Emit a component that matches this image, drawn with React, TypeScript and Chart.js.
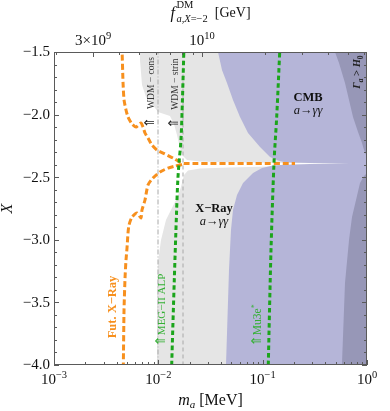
import React, { useEffect, useRef } from "react";
import { Chart, registerables } from "chart.js";

Chart.register(...registerables);

const SERIF = '"Liberation Serif", "Times New Roman", "DejaVu Serif", serif';
const ARROWFONT = '"DejaVu Sans", "DejaVu Serif", sans-serif';
const FRAME = "#5a5a5a";
const GREY_FILL = "#e5e5e5";
const CMB_FILL = "#b5b5d8";
const DARK_FILL = "#9797b7";
const ORANGE = "#f7901e";
const GREEN = "#1ba51b";
const GREEN_TEXT = "#33b033";
const DASH_GREY = "#a8a8a8";

// ---- axes ----
const mRange = [1e-3, 1];
const xRange = [-4.0, -1.5];
const fRange = [1.95e9, 6.17e10]; // f^DM_{a,X=-2} on top axis
const xTickStep = 0.1;
const mDecadeStarts = [1e-3, 1e-2, 1e-1];
const mMultipliers = [1, 2, 3, 4, 5, 6, 7, 8, 9];
const mMajorTicks = [1e-3, 1e-2, 1e-1, 1];
const mTickExponents = ["−3", "−2", "−1", "0"];
const xMajorTicks = [-4.0, -3.5, -3.0, -2.5, -2.0, -1.5];
const xTickLabels = ["−4.0", "−3.5", "−3.0", "−2.5", "−2.0", "−1.5"];
const fTicks = [2e9, 3e9, 4e9, 5e9, 6e9, 7e9, 8e9, 9e9, 1e10, 2e10, 3e10, 4e10, 5e10, 6e10];
const fLabelTicks = [3e9, 1e10];
const fLabelMantissa = ["3×10", "10"];
const fLabelExponents = ["9", "10"];

// ---- regions: [m_a (MeV), X] ----
type P = [number, number];
const xrayUpper: P[] = [
  [0.00667, -1.4], [0.00667, -1.564], [0.00698, -1.764], [0.00762, -1.859], [0.0087, -1.915],
  [0.00993, -1.979], [0.01133, -1.995], [0.01293, -2.011], [0.01413, -2.075], [0.0151, -2.163],
  [0.01613, -2.267], [0.01724, -2.331], [0.01883, -2.363], [0.02508, -2.375], [0.04863, -2.381],
  [0.1176, -2.385], [0.3544, -2.388], [1.333, -2.391], [1.333, -1.4],
];
const xrayLower: P[] = [
  [1.333, -2.403], [0.3544, -2.41], [0.1176, -2.415], [0.04863, -2.423], [0.02508, -2.431],
  [0.01925, -2.447], [0.01762, -2.482], [0.01649, -2.578], [0.0151, -2.666], [0.01352, -2.746],
  [0.01184, -2.842], [0.01061, -3.002], [0.00993, -3.177], [0.00971, -3.401], [0.00971, -4.12],
  [1.333, -4.12],
];
const cmbRegion: P[] = [
  [0.0357, -1.4], [1.333, -1.4], [1.333, -4.12], [0.04355, -4.12], [0.04452, -4.0],
  [0.04756, -3.241], [0.0497, -2.922], [0.05195, -2.762], [0.05675, -2.642], [0.06481, -2.546],
  [0.08081, -2.466], [0.09856, -2.427], [0.1256, -2.407], [0.1637, -2.401], [0.2843, -2.395],
  [0.6874, -2.391], [0.2843, -2.386], [0.1637, -2.38], [0.1403, -2.367], [0.1176, -2.339],
  [0.0943, -2.259], [0.07238, -2.147], [0.06064, -2.019], [0.05195, -1.883], [0.04551, -1.748],
  [0.04075, -1.644], [0.03732, -1.5], [0.0357, -1.4],
];
const decayRegion: P[] = [
  [0.4722, -1.4], [1.333, -1.4], [1.333, -4.12], [0.5635, -4.12], [0.5761, -3.984],
  [0.6153, -3.345], [0.6725, -3.002], [0.7183, -2.818], [0.7848, -2.682], [0.857, -2.546],
  [0.9363, -2.49], [1.0, -2.466], [1.19, -2.403], [1.0, -2.339], [0.9363, -2.283],
  [0.8957, -2.227], [0.8203, -2.139], [0.7343, -2.019], [0.6725, -1.883], [0.6153, -1.748],
  [0.5391, -1.588], [0.4934, -1.5], [0.4722, -1.4],
];

// ---- lines ----
const futXrayUpper: P[] = [
  [0.00448, -1.45], [0.00459, -1.748], [0.00469, -1.883], [0.0049, -1.963], [0.00512, -2.019],
  [0.00559, -2.075], [0.00611, -2.099], [0.00682, -2.067], [0.00713, -2.099], [0.00745, -2.147],
  [0.00796, -2.187], [0.00869, -2.243], [0.0097, -2.283], [0.01109, -2.307], [0.01383, -2.347],
  [0.01615, -2.379], [0.0176, -2.39], [0.2042, -2.39],
];
const futXrayLower: P[] = [
  [0.01687, -2.399], [0.01445, -2.411], [0.01239, -2.427], [0.01038, -2.458], [0.00889, -2.506],
  [0.00796, -2.562], [0.00745, -2.682], [0.00697, -2.762], [0.00682, -2.826], [0.00625, -2.786],
  [0.00559, -2.818], [0.00523, -2.882], [0.00512, -2.946], [0.00501, -3.065], [0.0049, -3.161],
  [0.0048, -3.297], [0.00469, -3.561], [0.00462, -4.0], [0.00461, -4.05],
];
const megLine: P[] = [
  [0.01762, -1.45], [0.01702, -1.883], [0.01648, -2.203], [0.01577, -2.387], [0.01534, -2.538],
  [0.01494, -2.786], [0.01422, -3.321], [0.01343, -4.0], [0.0134, -4.05],
];
const mu3eLine: P[] = [
  [0.1466, -1.45], [0.1363, -2.019], [0.1284, -2.387], [0.1202, -3.081], [0.1132, -4.0], [0.113, -4.05],
];
const wdmConsLine: P[] = [[0.00993, -1.4], [0.00993, -4.1]];
const wdmStrinLine: P[] = [[0.01724, -1.4], [0.01724, -4.1]];

// ---- annotations (positions in data coordinates) ----
type Part = { t: string; font: string; color?: string; dy?: number };
type Note = { m: number; X: number; rot: boolean; size: number; parts: Part[] };
const gg = (size: number): Part[] => [
  { t: "a", font: `italic ${size}px ${SERIF}`, color: "#111" },
  { t: "→", font: `${size}px ${SERIF}`, color: "#111" },
  { t: "γγ", font: `italic ${size}px ${SERIF}`, color: "#111" },
];
const notes: Note[] = [
  { m: 0.0085, X: -1.748, rot: true, size: 9.5, parts: [{ t: "WDM − cons", font: `9.5px ${SERIF}`, color: "#333" }] },
  { m: 0.00832, X: -2.063, rot: true, size: 12, parts: [{ t: "⇑", font: `13.5px ${ARROWFONT}`, color: "#222" }] },
  { m: 0.01445, X: -1.756, rot: true, size: 9.5, parts: [{ t: "WDM − strin", font: `9.5px ${SERIF}`, color: "#333" }] },
  { m: 0.01413, X: -2.067, rot: true, size: 12, parts: [{ t: "⇑", font: `13.5px ${ARROWFONT}`, color: "#222" }] },
  { m: 0.272, X: -1.859, rot: false, size: 12, parts: [{ t: "CMB", font: `bold 12.5px ${SERIF}`, color: "#111" }] },
  { m: 0.272, X: -1.963, rot: false, size: 12, parts: gg(12.5) },
  { m: 0.03416, X: -2.746, rot: false, size: 12, parts: [{ t: "X−Ray", font: `bold 12.5px ${SERIF}`, color: "#111" }] },
  { m: 0.03416, X: -2.85, rot: false, size: 12, parts: gg(12.5) },
  { m: 0.802, X: -1.66, rot: true, size: 10, parts: [
    { t: "Γ", font: `bold italic 10.5px ${SERIF}`, color: "#222" },
    { t: "a", font: `bold italic 7.5px ${SERIF}`, color: "#222", dy: 2.5 },
    { t: " > ", font: `bold 10.5px ${SERIF}`, color: "#222" },
    { t: "H", font: `bold italic 10.5px ${SERIF}`, color: "#222" },
    { t: "0", font: `bold 7.5px ${SERIF}`, color: "#222", dy: 2.5 },
  ] },
  { m: 0.0036, X: -3.537, rot: true, size: 12.5, parts: [{ t: "Fut. X−Ray", font: `bold 12.5px ${SERIF}`, color: ORANGE }] },
  { m: 0.0106, X: -3.561, rot: true, size: 11, parts: [{ t: "⇑", font: `13.5px ${ARROWFONT}`, color: GREEN_TEXT }, { t: "MEG−II ALP", font: `11px ${SERIF}`, color: GREEN_TEXT }] },
  { m: 0.0882, X: -3.684, rot: true, size: 11, parts: [{ t: "⇑", font: `13.5px ${ARROWFONT}`, color: GREEN_TEXT }, { t: "Mu3e", font: `11.5px ${SERIF}`, color: GREEN_TEXT }, { t: "*", font: `8px ${SERIF}`, color: GREEN_TEXT, dy: -4 }] },
];

const pts = (a: P[]) => a.map(([x, y]) => ({ x, y }));

function rich(ctx: CanvasRenderingContext2D, parts: Part[], x: number, y: number, align: string, rot: number, shift: number) {
  ctx.save();
  ctx.translate(x, y);
  if (rot) ctx.rotate(rot);
  const ws = parts.map((p) => {
    ctx.font = p.font;
    return ctx.measureText(p.t).width;
  });
  const total = ws.reduce((s, w) => s + w, 0);
  let cx = align === "center" ? -total / 2 : align === "right" ? -total : 0;
  ctx.textAlign = "left";
  ctx.textBaseline = "alphabetic";
  parts.forEach((p, i) => {
    ctx.font = p.font;
    ctx.fillStyle = p.color || "#000";
    ctx.fillText(p.t, cx, shift + (p.dy || 0));
    cx += ws[i];
  });
  ctx.restore();
}

const overlay = {
  id: "overlay",
  afterDraw(chart: any) {
    const { ctx, chartArea: a, scales } = chart;
    const sx = scales.x, sy = scales.y, sf = scales.x2;
    ctx.save();
    // annotations
    for (const n of notes) {
      const px = sx.getPixelForValue(n.m);
      const py = sy.getPixelForValue(n.X);
      rich(ctx, n.parts, px, py, "center", n.rot ? -Math.PI / 2 : 0, n.size * 0.34);
    }
    // frame
    ctx.strokeStyle = FRAME;
    ctx.lineWidth = 1;
    ctx.strokeRect(a.left + 0.5, a.top + 0.5, a.right - a.left - 1, a.bottom - a.top - 1);
    const seg = (x1: number, y1: number, x2: number, y2: number) => {
      ctx.beginPath();
      ctx.moveTo(x1, y1);
      ctx.lineTo(x2, y2);
      ctx.stroke();
    };
    // y ticks (both sides)
    for (const t of sy.ticks) {
      const py = Math.round(sy.getPixelForValue(t.value)) + 0.5;
      const major = xMajorTicks.some((v) => Math.abs(v - t.value) < 1e-6);
      const len = major ? 5 : 3;
      seg(a.left, py, a.left + len, py);
      seg(a.right, py, a.right - len, py);
    }
    // bottom ticks
    for (const t of sx.ticks) {
      const px = Math.round(sx.getPixelForValue(t.value)) + 0.5;
      const major = mMajorTicks.some((v) => Math.abs(v - t.value) / v < 1e-6);
      seg(px, a.bottom, px, a.bottom - (major ? 5 : 3));
    }
    // top ticks
    for (const t of sf.ticks) {
      const px = Math.round(sf.getPixelForValue(t.value)) + 0.5;
      const major = fLabelTicks.some((v) => Math.abs(v - t.value) / v < 1e-6);
      seg(px, a.top, px, a.top + (major ? 5 : 3));
    }
    // tick labels
    ctx.fillStyle = "#111";
    ctx.font = `15px ${SERIF}`;
    ctx.textAlign = "right";
    ctx.textBaseline = "middle";
    xMajorTicks.forEach((v, i) => {
      ctx.fillText(xTickLabels[i], a.left - 4, sy.getPixelForValue(v) + 0.5);
    });
    mMajorTicks.forEach((v, i) => {
      rich(ctx, [
        { t: "10", font: `15px ${SERIF}`, color: "#111" },
        { t: mTickExponents[i], font: `10.5px ${SERIF}`, color: "#111", dy: -6 },
      ], sx.getPixelForValue(v), a.bottom + 19, "center", 0, 0);
    });
    fLabelTicks.forEach((v, i) => {
      rich(ctx, [
        { t: fLabelMantissa[i], font: `15px ${SERIF}`, color: "#111" },
        { t: fLabelExponents[i], font: `10.5px ${SERIF}`, color: "#111", dy: -6 },
      ], sf.getPixelForValue(v), a.top - 7, "center", 0, 0);
    });
    // axis titles
    const cxm = (a.left + a.right) / 2;
    rich(ctx, [
      { t: "m", font: `italic 16px ${SERIF}`, color: "#111" },
      { t: "a", font: `italic 11px ${SERIF}`, color: "#111", dy: 3 },
      { t: " [MeV]", font: `16px ${SERIF}`, color: "#111" },
    ], cxm, chart.height - 6, "center", 0, 0);
    rich(ctx, [{ t: "X", font: `italic 16px ${SERIF}`, color: "#111" }], 12, (a.top + a.bottom) / 2, "center", -Math.PI / 2, 0);
    // top title with stacked scripts
    ctx.font = `italic 16px ${SERIF}`;
    const wf = ctx.measureText("f").width + 1.5;
    ctx.font = `10.5px ${SERIF}`;
    const wDM = ctx.measureText("DM").width;
    const subParts: Part[] = [
      { t: "a", font: `italic 10.5px ${SERIF}`, color: "#111" },
      { t: ",", font: `10.5px ${SERIF}`, color: "#111" },
      { t: "X", font: `italic 10.5px ${SERIF}`, color: "#111" },
      { t: "=−2", font: `10.5px ${SERIF}`, color: "#111" },
    ];
    let wsub = 0;
    for (const p of subParts) { ctx.font = p.font; wsub += ctx.measureText(p.t).width; }
    ctx.font = `14px ${SERIF}`;
    const wg = ctx.measureText("  [GeV]").width;
    const total = wf + Math.max(wDM, wsub) + wg;
    let x0 = cxm - total / 2;
    const B = 18;
    rich(ctx, [{ t: "f", font: `italic 16px ${SERIF}`, color: "#111" }], x0, B, "left", 0, 0);
    x0 += wf;
    rich(ctx, [{ t: "DM", font: `10.5px ${SERIF}`, color: "#111" }], x0, B - 10.5, "left", 0, 0);
    rich(ctx, subParts, x0, B + 3.5, "left", 0, 0);
    x0 += Math.max(wDM, wsub);
    rich(ctx, [{ t: "  [GeV]", font: `14px ${SERIF}`, color: "#111" }], x0, B - 1, "left", 0, 0);
    ctx.restore();
  },
};

export default function App() {
  const ref = useRef<HTMLCanvasElement | null>(null);
  useEffect(() => {
    if (!ref.current) return;
    const fillDs = (label: string, arr: P[], color: string, order: number) => ({
      label, data: pts(arr), backgroundColor: color, borderColor: "rgba(0,0,0,0)", borderWidth: 0,
      pointRadius: 0, fill: "shape", tension: 0, order,
    });
    const lineDs = (label: string, arr: P[], color: string, width: number, dash: number[], order: number, tension = 0.2) => ({
      label, data: pts(arr), borderColor: color, backgroundColor: color, borderWidth: width, borderDash: dash,
      borderCapStyle: "butt", pointRadius: 0, fill: false, tension, order,
    });
    const chart = new Chart(ref.current, {
      type: "line",
      data: {
        datasets: [
          lineDs("Mu3e", mu3eLine, GREEN, 3, [4.5, 3], 1, 0.3),
          lineDs("MEG-II ALP", megLine, GREEN, 3, [4.5, 3], 1, 0.3),
          lineDs("Fut. X-Ray upper", futXrayUpper, ORANGE, 3, [6, 3], 2),
          lineDs("Fut. X-Ray lower", futXrayLower, ORANGE, 3, [6, 3], 2),
          lineDs("WDM cons", wdmConsLine, DASH_GREY, 1, [5, 2, 1, 2], 3, 0),
          lineDs("WDM strin", wdmStrinLine, DASH_GREY, 1, [4, 3], 3, 0),
          fillDs("Gamma > H0", decayRegion, DARK_FILL, 5),
          fillDs("CMB", cmbRegion, CMB_FILL, 6),
          fillDs("X-Ray upper", xrayUpper, GREY_FILL, 7),
          fillDs("X-Ray lower", xrayLower, GREY_FILL, 7),
        ] as any,
      },
      options: {
        responsive: false,
        animation: false,
        events: [],
        devicePixelRatio: 1,
        layout: { padding: 0 },
        plugins: { legend: { display: false }, tooltip: { enabled: false } },
        scales: {
          x: {
            type: "logarithmic", position: "bottom", min: mRange[0], max: mRange[1],
            grid: { display: false }, border: { display: false }, ticks: { display: false },
            afterBuildTicks: (s: any) => {
              const t: any[] = [];
              for (const d of mDecadeStarts) for (const k of mMultipliers) t.push({ value: d * k });
              t.push({ value: mRange[1] });
              s.ticks = t;
            },
            afterFit: (s: any) => { s.height = 46; },
          },
          x2: {
            type: "logarithmic", position: "top", min: fRange[0], max: fRange[1],
            grid: { display: false }, border: { display: false }, ticks: { display: false },
            afterBuildTicks: (s: any) => { s.ticks = fTicks.map((v) => ({ value: v })); },
            afterFit: (s: any) => { s.height = 52; },
          },
          y: {
            type: "linear", position: "left", min: xRange[0], max: xRange[1],
            grid: { display: false }, border: { display: false }, ticks: { display: false },
            afterBuildTicks: (s: any) => {
              const t: any[] = [];
              const n = Math.round((xRange[1] - xRange[0]) / xTickStep);
              for (let k = 0; k <= n; k++) t.push({ value: +(xRange[0] + k * xTickStep).toFixed(2) });
              s.ticks = t;
            },
            afterFit: (s: any) => { s.width = 54; },
          },
          y2: {
            type: "linear", position: "right", min: xRange[0], max: xRange[1],
            grid: { display: false }, border: { display: false }, ticks: { display: false },
            afterFit: (s: any) => { s.width = 23; },
          },
        },
      } as any,
      plugins: [overlay as any],
    });
    return () => chart.destroy();
  }, []);
  return (
    <div style={{ position: "fixed", left: 0, top: 0, width: 390, height: 411, background: "#fff" }}>
      <canvas ref={ref} width={390} height={411} style={{ display: "block" }} />
    </div>
  );
}
